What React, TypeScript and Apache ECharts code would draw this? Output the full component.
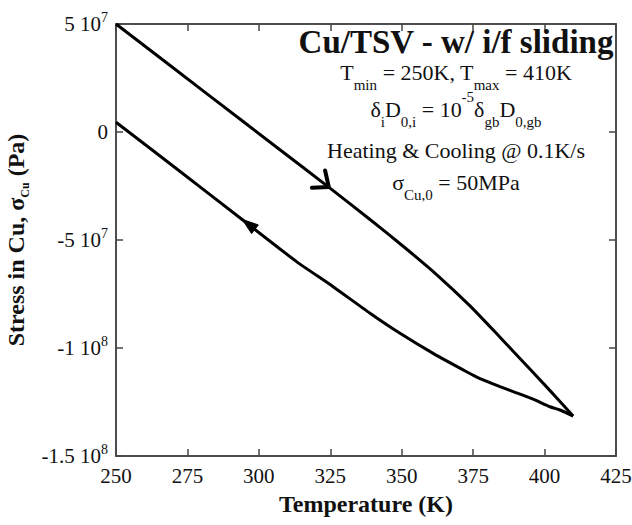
import React, { useEffect, useRef } from "react";
import * as echarts from "echarts";

// Heating branch (T in K, stress in Pa)
const heatingT = [250, 283, 306, 325, 338.9, 350.6, 362.2, 373.9, 384.4, 389, 400.7, 410];
const heatingStress = [5.0e7, 1.65e7, -0.68e7, -2.61e7, -4.05e7, -5.3e7, -6.6e7, -8.05e7, -9.5e7, -1.015e8, -1.18e8, -1.315e8];

// Cooling branch
const coolingT = [410, 405.4, 401.9, 396, 389, 384.4, 377.4, 372.7, 361, 349.4, 338.9, 326, 313.2, 294.6, 271.2, 250];
const coolingStress = [-1.315e8, -1.287e8, -1.272e8, -1.237e8, -1.202e8, -1.179e8, -1.142e8, -1.11e8, -1.025e8, -9.32e7, -8.39e7, -7.16e7, -6.0e7, -4.1e7, -1.7e7, 4.5e6];

// Direction arrows (tip positions on the curves)
const heatingArrowTip = [324.5, -2.55e7];
const coolingArrowTip = [294.2, -4.05e7];

// Axis ticks
const xMin = 250;
const xMax = 425;
const xStep = 25;
const yTickValues = [-1.5e8, -1e8, -5e7, 0, 5e7];
const yTickMantissa = ["-1.5 10", "-1 10", "-5 10", "0", "5 10"];
const yTickExponent = ["8", "8", "7", "", "7"];

const SERIF = "Liberation Serif";
const INK = "#111";

export default function App() {
  const ref = useRef<HTMLDivElement>(null);

  useEffect(() => {
    if (!ref.current) return;
    const chart = echarts.init(ref.current, null, { renderer: "svg" });

    const heating = heatingT.map((t, i) => [t, heatingStress[i]]);
    const cooling = coolingT.map((t, i) => [t, coolingStress[i]]);

    const yFormatter = (v: number) => {
      const idx = yTickValues.findIndex((t) => Math.abs(t - v) < 1);
      if (idx < 0) return "";
      const exp = yTickExponent[idx];
      return exp ? `{n|${yTickMantissa[idx]}}{s|${exp}}` : `{n|${yTickMantissa[idx]}}`;
    };

    const m = { fontFamily: SERIF, fontSize: 22, lineHeight: 40, fill: INK, color: INK };
    const s = { fontFamily: SERIF, fontSize: 15, lineHeight: 14, verticalAlign: "bottom", fill: INK, color: INK };
    const p = { fontFamily: SERIF, fontSize: 15, lineHeight: 25, verticalAlign: "top", fill: INK, color: INK };
    const textRich = { m, s, p };

    const lines = [
      { y: 72.6, text: "{m|T}{s|min}{m| = 250K, T}{s|max}{m| = 410K}" },
      { y: 109.6, text: "{m|δ}{s|i}{m|D}{s|0,i}{m| = 10}{p|-5}{m|δ}{s|gb}{m|D}{s|0,gb}" },
      { y: 150.6, text: "{m|Heating & Cooling @ 0.1K/s}" },
      { y: 182.6, text: "{m|σ}{s|Cu,0}{m| = 50MPa}" },
    ];

    const axisLineStyle = { color: "#444", width: 1.5 };

    chart.setOption({
      animation: false,
      backgroundColor: "#fff",
      grid: {
        left: 116,
        top: 24,
        right: 16,
        bottom: 69,
        containLabel: false,
        outerBoundsMode: "none",
        show: true,
        borderColor: "#444",
        borderWidth: 1.5,
        backgroundColor: "transparent",
      },
      xAxis: [
        {
          type: "value",
          min: xMin,
          max: xMax,
          interval: xStep,
          position: "bottom",
          name: "Temperature (K)",
          nameLocation: "middle",
          nameGap: 36,
          nameTextStyle: { fontFamily: SERIF, fontSize: 24, fontWeight: "bold", color: INK },
          axisLine: { show: true, onZero: false, lineStyle: axisLineStyle },
          axisTick: { show: true, inside: true, length: 7, lineStyle: axisLineStyle },
          axisLabel: { fontFamily: SERIF, fontSize: 21, color: INK, margin: 9 },
          splitLine: { show: false },
        },
        {
          type: "value",
          min: xMin,
          max: xMax,
          interval: xStep,
          position: "top",
          axisLine: { show: true, onZero: false, lineStyle: axisLineStyle },
          axisTick: { show: true, inside: true, length: 7, lineStyle: axisLineStyle },
          axisLabel: { show: false },
          splitLine: { show: false },
        },
      ],
      yAxis: [
        {
          type: "value",
          min: -1.5e8,
          max: 5e7,
          interval: 5e7,
          position: "left",
          name: "{b|Stress in Cu, σ}{c|Cu}{b| (Pa)}",
          nameLocation: "middle",
          nameRotate: 90,
          nameGap: 84,
          nameTextStyle: {
            fontFamily: SERIF,
            fontSize: 24,
            fontWeight: "bold",
            color: INK,
            rich: {
              b: { fontFamily: SERIF, fontSize: 24, fontWeight: "bold", color: INK, lineHeight: 30 },
              c: { fontFamily: SERIF, fontSize: 12, fontWeight: "bold", color: INK, lineHeight: 6, verticalAlign: "bottom" },
            },
          },
          axisLine: { show: true, onZero: false, lineStyle: axisLineStyle },
          axisTick: { show: true, inside: true, length: 7, lineStyle: axisLineStyle },
          axisLabel: {
            margin: 8,
            formatter: yFormatter,
            rich: {
              n: { fontFamily: SERIF, fontSize: 21, color: INK, lineHeight: 28 },
              s: { fontFamily: SERIF, fontSize: 14, color: INK, lineHeight: 14, verticalAlign: "top" },
            },
          },
          splitLine: { show: false },
        },
        {
          type: "value",
          min: -1.5e8,
          max: 5e7,
          interval: 5e7,
          position: "right",
          axisLine: { show: true, onZero: false, lineStyle: axisLineStyle },
          axisTick: { show: true, inside: true, length: 7, lineStyle: axisLineStyle },
          axisLabel: { show: false },
          splitLine: { show: false },
        },
      ],
      series: [
        {
          name: "Heating",
          type: "line",
          data: heating,
          showSymbol: false,
          smooth: 0.2,
          lineStyle: { color: "#000", width: 3 },
          z: 3,
        },
        {
          name: "Cooling",
          type: "line",
          data: cooling,
          showSymbol: false,
          smooth: 0.2,
          lineStyle: { color: "#000", width: 3 },
          z: 3,
        },
        {
          type: "line",
          xAxisIndex: 1,
          yAxisIndex: 1,
          data: [],
          showSymbol: false,
          silent: true,
        },
      ],
    });

    // Arrow heads placed through the chart's own coordinate conversion
    const toPx = (d: number[]) => chart.convertToPixel({ xAxisIndex: 0, yAxisIndex: 0 }, d) as number[];
    const unit = (a: number[], b: number[]) => {
      const dx = b[0] - a[0];
      const dy = b[1] - a[1];
      const len = Math.hypot(dx, dy) || 1;
      return [dx / len, dy / len];
    };
    const rot = (v: number[], ang: number) => [
      v[0] * Math.cos(ang) - v[1] * Math.sin(ang),
      v[0] * Math.sin(ang) + v[1] * Math.cos(ang),
    ];

    // heating: direction along increasing T
    const hTip = toPx(heatingArrowTip);
    const hDir = unit(toPx(heating[2]), toPx(heating[3]));
    const armL = 17;
    const a1 = rot(hDir, Math.PI * 0.22);
    const a2 = rot(hDir, -Math.PI * 0.22);
    const chevron = [
      [hTip[0] - armL * a1[0], hTip[1] - armL * a1[1]],
      [hTip[0], hTip[1]],
      [hTip[0] - armL * a2[0], hTip[1] - armL * a2[1]],
    ];

    // cooling: direction along decreasing T
    const cTip = toPx(coolingArrowTip);
    const cDir = unit(toPx(cooling[12]), toPx(cooling[13]));
    const tl = 16;
    const hw = 5.5;
    const base = [cTip[0] - tl * cDir[0], cTip[1] - tl * cDir[1]];
    const nrm = [-cDir[1], cDir[0]];
    const tri = [
      [cTip[0], cTip[1]],
      [base[0] + hw * nrm[0], base[1] + hw * nrm[1]],
      [base[0] - hw * nrm[0], base[1] - hw * nrm[1]],
    ];

    chart.setOption({
      graphic: [
        {
          type: "polyline",
          shape: { points: chevron },
          style: { stroke: "#000", lineWidth: 4, fill: null, lineCap: "round", lineJoin: "round" },
          z: 5,
          silent: true,
        },
        {
          type: "polygon",
          shape: { points: tri },
          style: { fill: "#000", stroke: "#000", lineWidth: 1 },
          z: 5,
          silent: true,
        },
        {
          type: "text",
          x: 456,
          y: 42,
          style: {
            text: "Cu/TSV - w/ i/f sliding",
            fontFamily: SERIF,
            fontSize: 33,
            fontWeight: "bold",
            fill: INK,
            align: "center",
            verticalAlign: "middle",
          },
          z: 10,
        },
        ...lines.map((l) => ({
          type: "text",
          x: 456,
          y: l.y,
          style: {
            text: l.text,
            rich: textRich,
            fontFamily: SERIF,
            fontSize: 22,
            fill: INK,
            align: "center",
            verticalAlign: "middle",
          },
          z: 10,
        })),
      ],
    });

    return () => chart.dispose();
  }, []);

  return (
    <div
      ref={ref}
      style={{ position: "absolute", left: 0, top: 0, width: 632, height: 525 }}
    />
  );
}
